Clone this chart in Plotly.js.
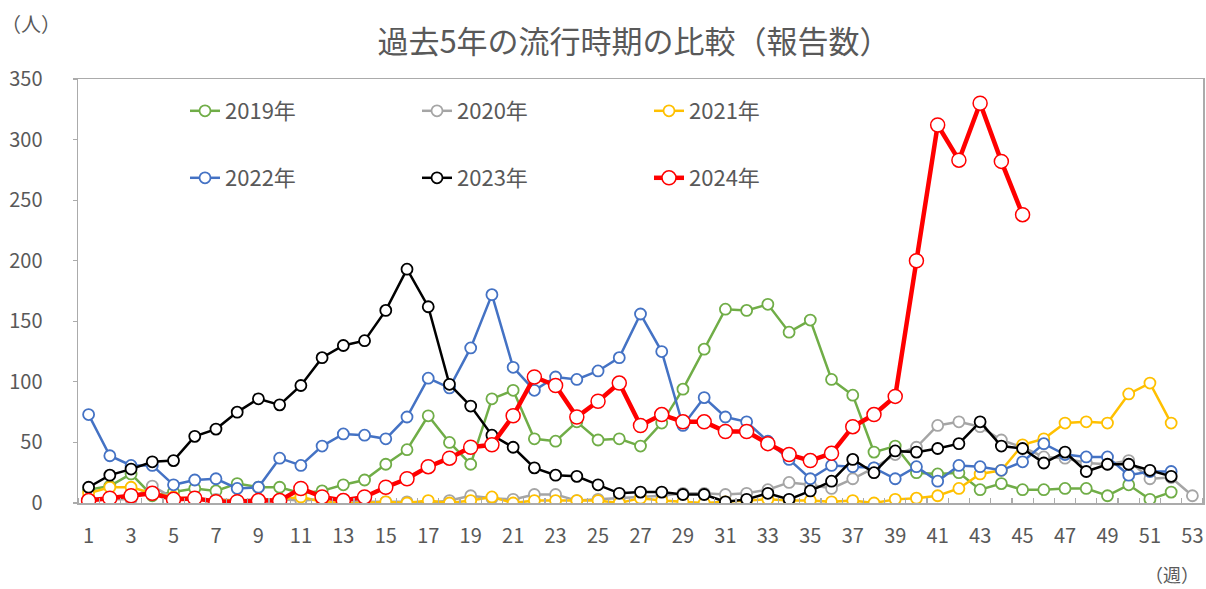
<!DOCTYPE html>
<html>
<head>
<meta charset="utf-8">
<script src="https://cdn.plot.ly/plotly-3.0.1.min.js"></script>
<style>html,body{margin:0;padding:0;background:#fff;}#chart{width:1206px;height:589px;}</style>
</head>
<body>
<div id="chart"></div>
<script>
const weeks = [1,2,3,4,5,6,7,8,9,10,11,12,13,14,15,16,17,18,19,20,21,22,23,24,25,26,27,28,29,30,31,32,33,34,35,36,37,38,39,40,41,42,43,44,45,46,47,48,49,50,51,52,53];
const xTickVals = [1,3,5,7,9,11,13,15,17,19,21,23,25,27,29,31,33,35,37,39,41,43,45,47,49,51,53];
const yTickVals = [0,50,100,150,200,250,300,350];

const seriesNames = ["2019年","2020年","2021年","2022年","2023年","2024年"];
const v2019 = [11,14,24,6,9,12,10,16,13,13,8,10,15,19,32,44,72,50,32,86,93,53,51,67,52,53,47,66,94,127,160,159,164,141,151,102,89,42,47,25,24,25,11,16,11,11,12,12,6,15,3,9];
const v2020 = [4,3,3,14,4,3,3,2,3,3,2,3,3,1,1,1,0,2,6,4,3,7,7,2,3,4,5,6,8,8,7,8,11,17,15,12,20,29,40,46,64,67,63,52,46,38,37,33,32,35,20,21,6];
const v2021 = [8,13,13,8,5,3,2,2,2,3,5,1,0,0,1,0,2,0,2,5,0,2,2,2,2,0,4,2,1,0,1,2,3,2,2,1,2,0,3,4,6,12,24,27,48,53,66,67,66,90,99,66];
const v2022 = [73,39,31,31,15,19,20,12,13,37,31,47,57,56,53,71,103,95,128,172,112,93,104,102,109,120,156,125,64,87,71,67,51,36,20,31,30,29,20,30,18,31,30,27,34,49,40,38,38,23,26,26];
const v2023 = [13,23,28,34,35,55,61,75,86,81,97,120,130,134,159,193,162,98,80,56,46,29,23,22,15,8,9,9,7,7,1,3,8,3,10,18,36,25,43,42,45,49,67,47,45,33,42,26,32,32,27,22];
const v2024 = [2,4,6,8,3,4,1,1,2,2,12,5,2,5,13,20,30,37,46,48,72,104,97,71,84,99,64,73,67,67,59,59,49,40,35,41,63,73,88,200,312,283,330,282,238];

const values = [v2019, v2020, v2021, v2022, v2023, v2024];
const colors = ["#70AD47","#A5A5A5","#FFC000","#4472C4","#000000","#FF0000"];

const W = 1206, H = 589, L = 78, R = 3, T = 79, B = 86;
const PW = W - L - R, PH = H - T - B;
const px2x = p => (p - L) / PW;
const py2y = p => (H - B - p) / PH;

const FONT = '"Noto Sans CJK JP", "Noto Sans", sans-serif';
const TXT = '#595959';

const traces = values.map((vals, i) => {
  const isRed = i === 5;
  return {
    type: 'scatter',
    mode: 'lines+markers',
    name: seriesNames[i],
    x: weeks.slice(0, vals.length),
    y: vals,
    line: {color: colors[i], width: isRed ? 4.5 : 2.5},
    marker: {symbol: 'circle', size: isRed ? 14 : 11, color: '#ffffff',
             line: {color: colors[i], width: isRed ? 1.5 : 1.8}},
    legend: i < 3 ? 'legend' : 'legend2',
    hoverinfo: 'x+y+name'
  };
});

const legendBase = {
  orientation: 'h', xanchor: 'left', yanchor: 'middle',
  entrywidth: 187, entrywidthmode: 'pixels',
  font: {family: FONT, size: 22, color: TXT},
  bgcolor: 'rgba(0,0,0,0)', borderwidth: 0, traceorder: 'normal'
};

const layout = {
  width: W, height: H,
  margin: {l: L, r: R, t: T, b: B, pad: 0},
  paper_bgcolor: '#ffffff', plot_bgcolor: '#ffffff',
  font: {family: FONT, color: TXT},
  showlegend: true,
  title: {text: '過去5年の流行時期の比較（報告数）', x: 634 / W, xref: 'container', xanchor: 'center',
          y: 1 - 42 / H, yref: 'container', yanchor: 'middle',
          font: {family: FONT, size: 31, color: TXT}},
  xaxis: {
    range: [0.5, 53.5], tickmode: 'array', tickvals: xTickVals, ticktext: xTickVals.map(String),
    ticks: '', showgrid: false, zeroline: false,
    showline: true, linecolor: '#ABABAB', linewidth: 1.5, mirror: true,
    ticklabelstandoff: 14,
    tickfont: {family: FONT, size: 20, color: TXT},
    minor: {tick0: 0.5, dtick: 1, ticks: 'inside', ticklen: 5, tickwidth: 1.2, tickcolor: '#ABABAB', showgrid: false}
  },
  yaxis: {
    range: [0, 350], tickmode: 'array', tickvals: yTickVals, ticktext: yTickVals.map(String),
    ticks: 'outside', ticklen: 4, tickwidth: 1.2, tickcolor: '#ABABAB',
    showgrid: false, zeroline: false,
    showline: true, linecolor: '#ABABAB', linewidth: 1.5, mirror: true,
    ticklabelstandoff: 26,
    tickfont: {family: FONT, size: 20, color: TXT}
  },
  legend: Object.assign({}, legendBase, {x: px2x(185), y: py2y(111)}),
  legend2: Object.assign({}, legendBase, {x: px2x(185), y: py2y(178)}),
  annotations: [
    {text: '（人）', xref: 'paper', yref: 'paper', x: px2x(31), y: py2y(24), xanchor: 'center', yanchor: 'middle',
     showarrow: false, font: {family: FONT, size: 20, color: TXT}},
    {text: '（週）', xref: 'paper', yref: 'paper', x: px2x(1172), y: py2y(574), xanchor: 'center', yanchor: 'middle',
     showarrow: false, font: {family: FONT, size: 18, color: TXT}}
  ]
};

Plotly.newPlot('chart', traces, layout, {displayModeBar: false, staticPlot: true});
</script>
</body>
</html>
